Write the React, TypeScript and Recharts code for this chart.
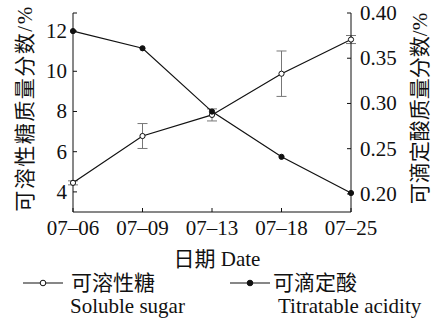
import React from "react";
import { LineChart, Line, XAxis, YAxis, ErrorBar, Label } from "recharts";

// Values.
const dates = ["07–06", "07–09", "07–13", "07–18", "07–25"];
const sugar = [4.45, 6.78, 7.83, 9.88, 11.58];
const sugarErr = [0.1, 0.62, 0.3, 1.13, 0.2];
const acidity = [0.38, 0.361, 0.291, 0.241, 0.201];

const sugarTicks = [4, 6, 8, 10, 12];
const sugarDomain = [3, 12.9];
const acidTicks = [0.2, 0.25, 0.3, 0.35, 0.4];
const acidDomain = [0.18, 0.4];

const seriesZh = ["可溶性糖", "可滴定酸"];
const seriesEn = ["Soluble sugar", "Titratable acidity"];
const xTitle = "日期 Date";
const leftTitle = "可溶性糖质量分数/%";
const rightTitle = "可滴定酸质量分数/%";

const data = dates.map((d, i) => ({
  date: d,
  sugar: sugar[i],
  sugarErr: sugarErr[i],
  acidity: acidity[i],
}));

const FONT = "'Liberation Serif', 'Noto Sans CJK SC', serif";
const INK = "#111";

const XTick = ({ x, y, payload }: any) => (
  <g>
    <line x1={x} y1={y} x2={x} y2={y - 4} stroke={INK} strokeWidth={1} />
    <text
      x={x}
      y={y + 16}
      textAnchor="middle"
      dominantBaseline="central"
      fontFamily={FONT}
      fontSize={21}
      fill={INK}
    >
      {payload.value}
    </text>
  </g>
);

const LeftTick = ({ x, y, payload }: any) => (
  <g>
    <line x1={x} y1={y} x2={x + 4} y2={y} stroke={INK} strokeWidth={1} />
    {sugarTicks.includes(payload.value) && (
      <text
        x={x - 6}
        y={y}
        textAnchor="end"
        dominantBaseline="central"
        fontFamily={FONT}
        fontSize={21}
        fill={INK}
      >
        {payload.value}
      </text>
    )}
  </g>
);

const RightTick = ({ x, y, payload }: any) => (
  <g>
    <line x1={x} y1={y} x2={x - 4} y2={y} stroke={INK} strokeWidth={1} />
    <text
      x={x + 9}
      y={y}
      textAnchor="start"
      dominantBaseline="central"
      fontFamily={FONT}
      fontSize={21}
      fill={INK}
    >
      {Number(payload.value).toFixed(2)}
    </text>
  </g>
);

// rotated axis title, centred in the axis band
const vTitle = (text: string, dx: number, spacing: number) => (p: any) => {
  const vb = p.viewBox || {};
  const cx = vb.x + dx;
  const cy = vb.y + vb.height / 2 - 4;
  return (
    <text
      x={cx}
      y={cy}
      transform={`rotate(-90 ${cx} ${cy})`}
      textAnchor="middle"
      dominantBaseline="central"
      fontFamily={FONT}
      fontSize={21}
      letterSpacing={spacing}
      fill={INK}
    >
      {text}
    </text>
  );
};

const xTitleContent = (p: any) => {
  const vb = p.viewBox || {};
  return (
    <text
      x={vb.x + vb.width / 2 + 5}
      y={vb.y + 47}
      textAnchor="middle"
      dominantBaseline="central"
      fontFamily={FONT}
      fontSize={21}
      fill={INK}
    >
      {xTitle}
    </text>
  );
};

const legendPos = [
  { line: 23, w: 40, zh: 71, en: 70 },
  { line: 230, w: 40, zh: 273, en: 278 },
];

function LegendBlock() {
  return (
    <>
      {seriesZh.map((zh, i) => {
        const p = legendPos[i];
        return (
          <React.Fragment key={zh}>
            <svg
              width={p.w}
              height={12}
              style={{ position: "absolute", left: p.line, top: 277 }}
            >
              <line x1={0} y1={6} x2={p.w} y2={6} stroke={INK} strokeWidth={1.2} />
              <circle
                cx={p.w / 2}
                cy={6}
                r={2.8}
                fill={i === 0 ? "#fff" : INK}
                stroke={INK}
                strokeWidth={1}
              />
            </svg>
            <div
              style={{
                position: "absolute",
                left: p.zh,
                top: 272,
                fontFamily: FONT,
                fontSize: 21,
                lineHeight: "22px",
                color: INK,
                whiteSpace: "nowrap",
              }}
            >
              {zh}
            </div>
            <div
              style={{
                position: "absolute",
                left: p.en,
                top: 295,
                fontFamily: FONT,
                fontSize: 21,
                lineHeight: "22px",
                color: INK,
                whiteSpace: "nowrap",
              }}
            >
              {seriesEn[i]}
            </div>
          </React.Fragment>
        );
      })}
    </>
  );
}

export default function App() {
  return (
    <div
      style={{
        position: "absolute",
        left: 0,
        top: 0,
        width: 438,
        height: 327,
        background: "#fff",
        overflow: "hidden",
      }}
    >
      <LineChart
        width={438}
        height={327}
        data={data}
        margin={{ top: 13, right: 0, bottom: 85, left: 0 }}
      >
        <XAxis
          dataKey="date"
          height={30}
          tickSize={0}
          tickMargin={0}
          tickLine={false}
          interval={0}
          tick={<XTick />}
          axisLine={{ stroke: INK, strokeWidth: 1 }}
        >
          <Label content={xTitleContent} />
        </XAxis>
        <YAxis
          yAxisId="left"
          orientation="left"
          width={73}
          domain={sugarDomain}
          ticks={[...sugarTicks, sugarDomain[1]]}
          interval={0}
          tickSize={0}
          tickMargin={0}
          tickLine={false}
          tick={<LeftTick />}
          axisLine={{ stroke: INK, strokeWidth: 1 }}
          allowDataOverflow
        >
          <Label content={vTitle(leftTitle, 25, 1.5)} />
        </YAxis>
        <YAxis
          yAxisId="right"
          orientation="right"
          width={87}
          domain={acidDomain}
          ticks={acidTicks}
          interval={0}
          tickSize={0}
          tickMargin={0}
          tickLine={false}
          tick={<RightTick />}
          axisLine={{ stroke: INK, strokeWidth: 1 }}
          allowDataOverflow
        >
          <Label content={vTitle(rightTitle, 69, 0)} />
        </YAxis>
        <Line
          yAxisId="left"
          dataKey="sugar"
          type="linear"
          stroke={INK}
          strokeWidth={1.2}
          dot={{ r: 2.6, fill: "#fff", stroke: INK, strokeWidth: 1 }}
          isAnimationActive={false}
        >
          <ErrorBar
            dataKey="sugarErr"
            direction="y"
            width={5}
            stroke="#777"
            strokeWidth={1}
            isAnimationActive={false}
          />
        </Line>
        <Line
          yAxisId="right"
          dataKey="acidity"
          type="linear"
          stroke={INK}
          strokeWidth={1.2}
          dot={{ r: 2.6, fill: INK, stroke: INK, strokeWidth: 1 }}
          isAnimationActive={false}
        />
      </LineChart>
      <LegendBlock />
    </div>
  );
}
